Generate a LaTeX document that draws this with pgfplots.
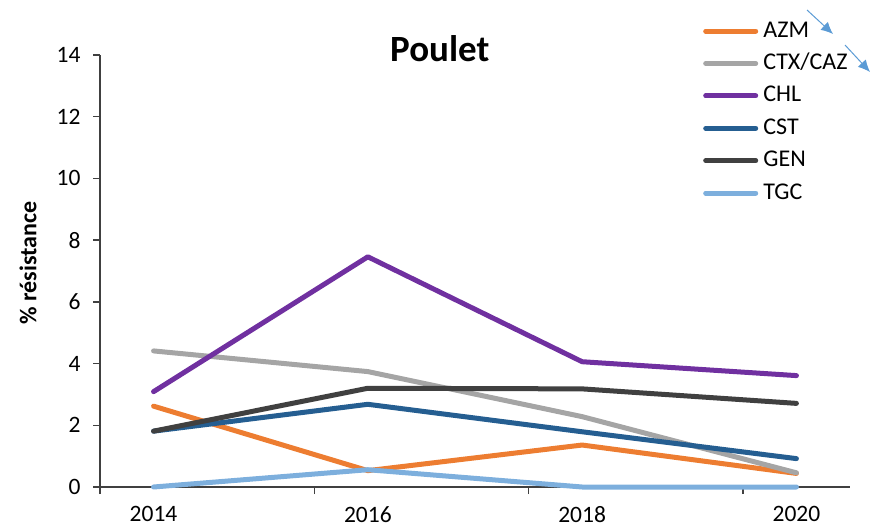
\documentclass[border=0pt]{standalone}
\usepackage{pgfplots}
\pgfplotsset{compat=1.18}
\usetikzlibrary{arrows.meta}
\usepackage{fontspec}
\setmainfont{Carlito}
\definecolor{azm}{HTML}{ED7D31}
\definecolor{ctx}{HTML}{A5A5A5}
\definecolor{chl}{HTML}{7030A0}
\definecolor{cst}{HTML}{255E91}
\definecolor{gen}{HTML}{404040}
\definecolor{tgc}{HTML}{7DAFDD}
\definecolor{arrowblue}{HTML}{5B9BD5}
\begin{document}
\begin{tikzpicture}[x=1pt,y=1pt]
\useasboundingbox (0,0) rectangle (870,528);
\begin{axis}[
  at={(100pt,41pt)}, anchor=south west,
  scale only axis, width=750pt, height=432pt,
  xmin=2013.5, xmax=2020.5, ymin=0, ymax=14,
  clip=false,
  axis x line=bottom, axis y line=left,
  axis line style={-, draw=black!75, line width=1.3pt},
  xtick={2013.5,2015.5,2017.5,2019.5},
  xticklabels={2014,2016,2018,2020},
  xticklabel style={xshift=53.57pt, yshift=-12pt, inner sep=0pt},
  yticklabel style={xshift=-9pt},
  ytick={0,2,...,14},
  tick align=outside, major tick length=7pt,
  tick style={draw=black!75, line width=1.3pt},
  ticklabel style={font=\fontsize{23.5}{28}\selectfont},
  /pgf/number format/assume math mode=true,
  title={Poulet},
  title style={font=\bfseries\fontsize{37}{40}\selectfont, at={(0.453,1.0)}, anchor=center},
  ylabel={\% résistance},
  ylabel style={font=\bfseries\fontsize{24}{28}\selectfont, at={(axis description cs:-0.096,0.519)}, anchor=center},
  legend cell align=left,
  legend image code/.code={\draw[#1] (0pt,0pt) -- (50pt,0pt);},
  legend style={at={(0.8,1.098)}, anchor=north west, draw=none, fill=none,
    font=\fontsize{24}{28}\selectfont, row sep=0pt,
    nodes={text height=17pt, text depth=5pt, inner sep=5.2pt}},
  every axis plot/.append style={line width=5pt, line join=round, line cap=round},
]
\addplot[azm] coordinates {(2014,2.62) (2016,0.53) (2018,1.36) (2020,0.44)};
\addlegendentry{AZM}
\addplot[ctx] coordinates {(2014,4.41) (2016,3.74) (2018,2.28) (2020,0.46)};
\addlegendentry{CTX/CAZ}
\addplot[chl] coordinates {(2014,3.09) (2016,7.46) (2018,4.06) (2020,3.61)};
\addlegendentry{CHL}
\addplot[cst] coordinates {(2014,1.81) (2016,2.68) (2018,1.79) (2020,0.92)};
\addlegendentry{CST}
\addplot[gen] coordinates {(2014,1.81) (2016,3.20) (2018,3.18) (2020,2.71)};
\addlegendentry{GEN}
\addplot[tgc] coordinates {(2014,0) (2016,0.56) (2018,0) (2020,0)};
\addlegendentry{TGC}
\end{axis}
\draw[arrowblue, line width=1pt, -{Latex[length=12pt,width=11pt]}] (807,518) -- (833,494);
\draw[arrowblue, line width=1pt, -{Latex[length=12pt,width=11pt]}] (845,483) -- (870,456);
\end{tikzpicture}
\end{document}
